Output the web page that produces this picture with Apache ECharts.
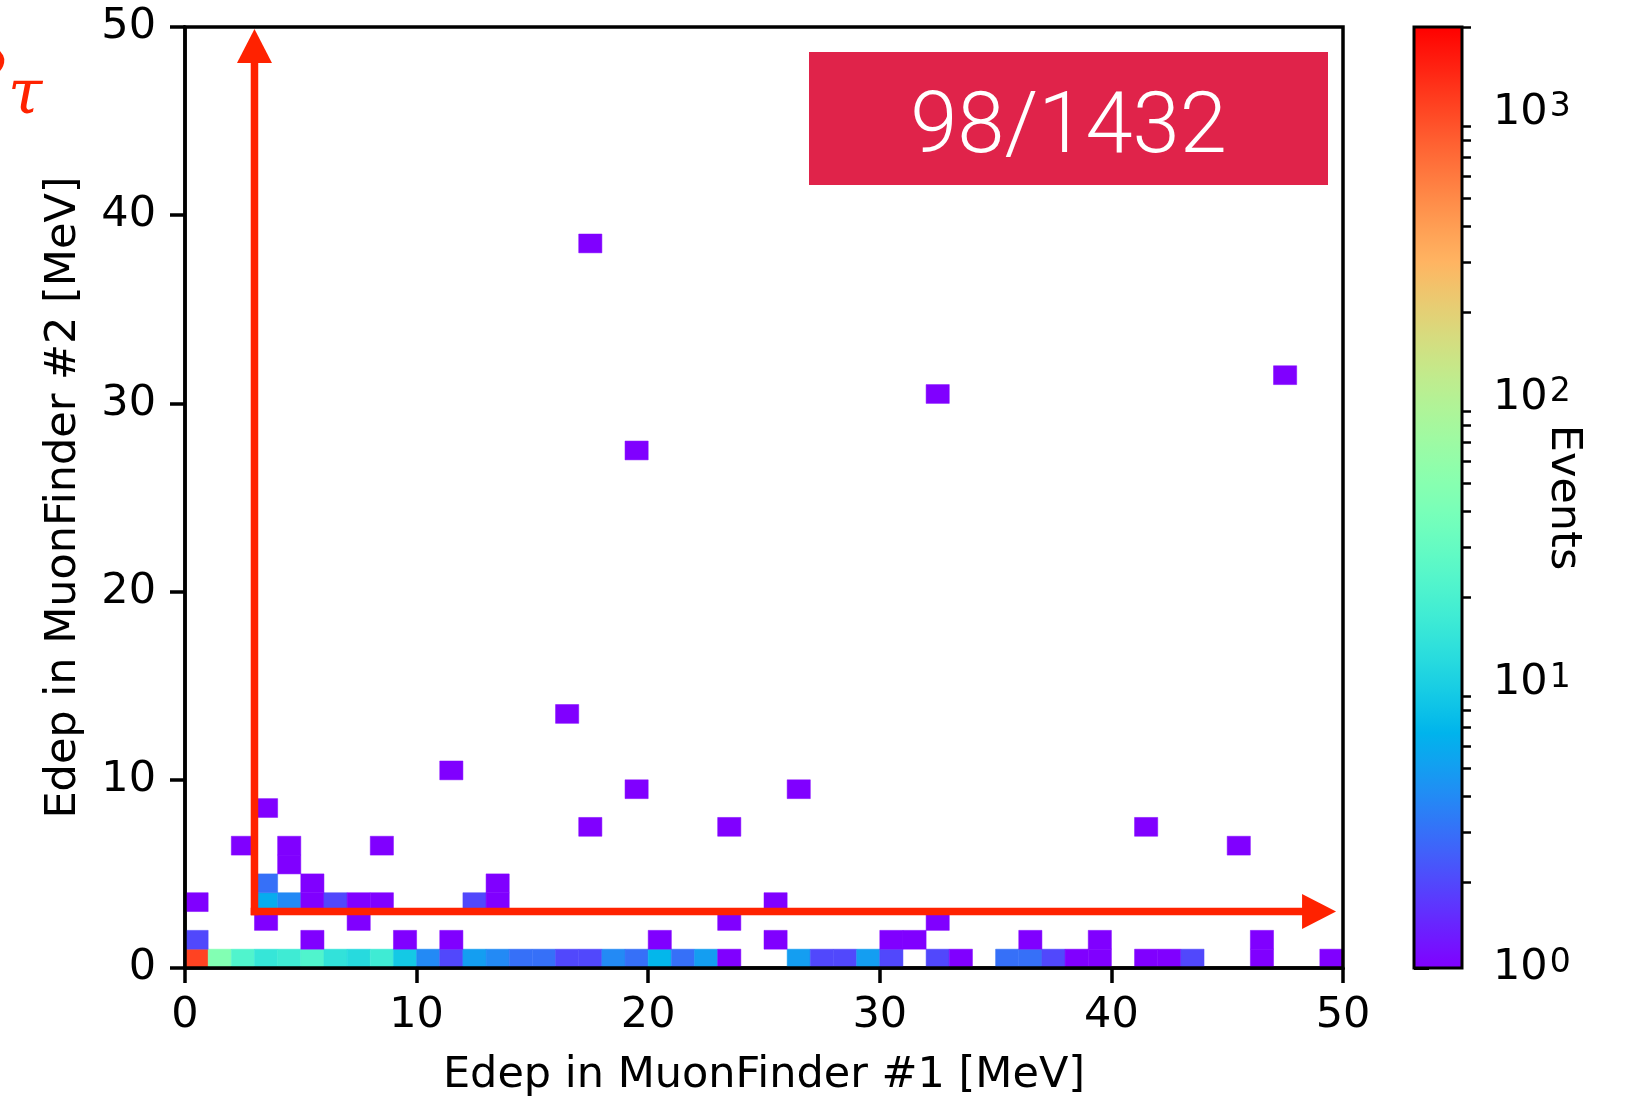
<!DOCTYPE html>
<html><head><meta charset="utf-8">
<script src="https://cdn.jsdelivr.net/npm/echarts@6/dist/echarts.min.js"></script>
<style>html,body{margin:0;padding:0;background:#fff;}#c{width:1630px;height:1103px;}</style>
</head><body><div id="c"></div>
<script>
// Row 0 (Edep #2 in [0,1) MeV): counts per 1-MeV bin of Edep #1 (0..49)
const row0Counts = [1050,46,22,15,17,22,14,12,17,9, 4,2,5,4,3,3,2,2,4,3, 7,3,5,1,0,0,5,2,2,5, 2,0,2,1,0,3,3,2,1,1, 0,1,1,2,0,0,1,0,0,1];
// Other filled bins: lower-left corner (MeV) and counts
const binX = [0,5,9,11,20,25,30,31,36,39,46, 3,7,23,32, 0,3,4,5,6,7,8,12,13,25, 3,5,13, 4, 2,4,8,45, 17,23,41, 3, 19,26, 11, 16, 19, 32, 47, 17];
const binY = [1,1,1,1,1,1,1,1,1,1,1, 2,2,2,2, 3,3,3,3,3,3,3,3,3,3, 4,4,4, 5, 6,6,6,6, 7,7,7, 8, 9,9, 10, 13, 27, 30, 31, 38];
const binCount = [2,1,1,1,1,1,1,1,1,1,1, 1,1,1,1, 1,6,4,1,2,1,1,2,1,1, 3,1,1, 1, 1,1,1,1, 1,1,1, 1, 1,1, 1, 1, 1, 1, 1, 1];
// Colour-bar range and ticks
const cbarMin = 1, cbarMax = 2000;
const cbarMajor = [1, 10, 100, 1000];
const cbarMinor = [2,3,4,5,6,7,8,9,20,30,40,50,60,70,80,90,200,300,400,500,600,700,800,900,2000];
// Selection arrows (start corner and tips, MeV)
const arrowFrom = [3, 3];
const arrowTips = [[3, 49.9], [49.7, 3]];
const boxText = '98/1432';
const xName = 'Edep in MuonFinder #1 [MeV]';
const yName = 'Edep in MuonFinder #2 [MeV]';
const cName = 'Events';

const LMAX = Math.log10(cbarMax);
function rainbow(t){
  const r = Math.min(1, Math.abs(2*t - 0.5));
  const g = Math.max(0, Math.sin(Math.PI*t));
  const b = Math.max(0, Math.cos(Math.PI*t/2));
  return 'rgb(' + Math.round(255*r) + ',' + Math.round(255*g) + ',' + Math.round(255*b) + ')';
}
const NST = 64;
const stopColors = [], gradStops = [];
for (let i = 0; i <= NST; i++) { stopColors.push(rainbow(i/NST)); gradStops.push({offset: i/NST, color: rainbow(i/NST)}); }

const heatData = [];
row0Counts.forEach((c, i) => { if (c > 0) heatData.push([i, 0, c, Math.log10(c)]); });
binX.forEach((x, i) => heatData.push([x, binY[i], binCount[i], Math.log10(binCount[i])]));

const FONT = 'DejaVu Sans';
const chart = echarts.init(document.getElementById('c'), null, {renderer: 'canvas'});

chart.setOption({
  animation: false,
  backgroundColor: '#fff',
  grid: [
    {left: 185, top: 27, width: 1158, height: 941, show: true, borderColor: '#000', borderWidth: 3.5, backgroundColor: 'transparent', z: 3},
    {left: 1414, top: 27, width: 48, height: 941, show: true, borderColor: '#000', borderWidth: 3, backgroundColor: 'transparent', z: 3}
  ],
  xAxis: [
    {gridIndex: 0, type: 'value', min: 0, max: 50, interval: 10,
     axisLine: {show: true, onZero: false, lineStyle: {color: '#000', width: 3.5}},
     axisTick: {show: true, length: 15, lineStyle: {color: '#000', width: 3.5}},
     axisLabel: {fontSize: 43, color: '#000', fontFamily: FONT, margin: 26},
     splitLine: {show: false},
     name: xName, nameLocation: 'middle', nameGap: 86,
     nameTextStyle: {fontSize: 43, color: '#000', fontFamily: FONT}},
    {gridIndex: 1, type: 'value', min: 0, max: 1, show: false}
  ],
  yAxis: [
    {gridIndex: 0, type: 'value', min: 0, max: 50, interval: 10,
     axisLine: {show: true, onZero: false, lineStyle: {color: '#000', width: 3.5}},
     axisTick: {show: true, length: 15, lineStyle: {color: '#000', width: 3.5}},
     axisLabel: {fontSize: 43, color: '#000', fontFamily: FONT, margin: 29},
     splitLine: {show: false},
     name: yName, nameLocation: 'middle', nameGap: 100,
     nameTextStyle: {fontSize: 43, color: '#000', fontFamily: FONT}},
    {gridIndex: 1, type: 'value', min: 0, max: LMAX, position: 'right',
     axisLine: {show: false}, splitLine: {show: false},
     axisTick: {show: true, length: 15, customValues: cbarMajor.map(v => Math.log10(v)), lineStyle: {color: '#000', width: 3}},
     axisLabel: {show: true, customValues: cbarMajor.map(v => Math.log10(v)), margin: 31,
       fontSize: 43, color: '#000', fontFamily: FONT,
       formatter: v => '10{sup|' + Math.round(v) + '}',
       rich: {sup: {fontSize: 33, lineHeight: 16, verticalAlign: 'top', color: '#000', fontFamily: FONT, padding: [0, 0, 0, 2]}}},
     name: cName, nameLocation: 'middle', nameRotate: -90, nameGap: 80, nameMoveOverlap: false,
     nameTextStyle: {fontSize: 43, color: '#000', fontFamily: FONT}},
    {gridIndex: 1, type: 'value', min: 0, max: LMAX, position: 'right',
     axisLine: {show: false}, splitLine: {show: false}, axisLabel: {show: false},
     axisTick: {show: true, length: 9, customValues: cbarMinor.map(v => Math.log10(v)), lineStyle: {color: '#000', width: 2.5}}}
  ],
  visualMap: {type: 'continuous', show: false, dimension: 3, min: 0, max: LMAX, seriesIndex: 0,
    inRange: {color: stopColors}},
  series: [
    {type: 'custom', name: 'hist', xAxisIndex: 0, yAxisIndex: 0,
     dimensions: ['x', 'y', 'count', 'logc'], encode: {x: 0, y: 1},
     data: heatData, z: 2,
     renderItem: (params, api) => {
       const x = api.value(0), y = api.value(1);
       const p0 = api.coord([x, y + 1]), p1 = api.coord([x + 1, y]);
       const col = api.visual('color');
       return {type: 'rect', shape: {x: p0[0], y: p0[1], width: p1[0] - p0[0], height: p1[1] - p0[1]},
               style: {fill: col, stroke: col, lineWidth: 0.5}};
     }},
    {type: 'custom', name: 'arrows', xAxisIndex: 0, yAxisIndex: 0, clip: false, z: 4,
     dimensions: ['x0', 'y0', 'x1', 'y1'], encode: {x: [0, 2], y: [1, 3]},
     data: arrowTips.map(t => [arrowFrom[0], arrowFrom[1], t[0], t[1]]),
     renderItem: (params, api) => {
       const p0 = api.coord([api.value(0), api.value(1)]);
       const p1 = api.coord([api.value(2), api.value(3)]);
       const dx = p1[0] - p0[0], dy = p1[1] - p0[1], len = Math.hypot(dx, dy);
       const ux = dx / len, uy = dy / len, nx = -uy, ny = ux;
       const headL = 34, headW = 35, lw = 7.5;
       const s = [p0[0] - ux * lw / 2, p0[1] - uy * lw / 2];
       const b = [p1[0] - ux * headL, p1[1] - uy * headL];
       return {type: 'group', children: [
         {type: 'line', shape: {x1: s[0], y1: s[1], x2: b[0] + ux * 2, y2: b[1] + uy * 2},
          style: {stroke: '#ff2200', lineWidth: lw, lineCap: 'butt'}},
         {type: 'polygon', shape: {points: [p1, [b[0] + nx * headW / 2, b[1] + ny * headW / 2], [b[0] - nx * headW / 2, b[1] - ny * headW / 2]]},
          style: {fill: '#ff2200'}}
       ]};
     }},
    {type: 'custom', name: 'colorbar', xAxisIndex: 1, yAxisIndex: 1, z: 2,
     data: [[0, 0, 1, LMAX]], encode: {x: [0, 2], y: [1, 3]},
     renderItem: (params, api) => {
       const p0 = api.coord([api.value(0), api.value(3)]);
       const p1 = api.coord([api.value(2), api.value(1)]);
       return {type: 'rect', shape: {x: p0[0], y: p0[1], width: p1[0] - p0[0], height: p1[1] - p0[1]},
               style: {fill: new echarts.graphic.LinearGradient(0, 1, 0, 0, gradStops)}};
     }}
  ],
  graphic: [
    {type: 'rect', left: 809, top: 52, shape: {width: 519, height: 133}, style: {fill: '#e0234a'}, z: 10},
    {type: 'text', x: 1068.5, y: 131, z: 11,
     style: {text: boxText, fill: '#fff', fontSize: 85, fontWeight: 300, fontFamily: 'Roboto',
             align: 'center', verticalAlign: 'middle', textAlign: 'center', textVerticalAlign: 'middle'}},
    {type: 'text', x: -44, y: 28, z: 11,
     style: {text: 'ν', fill: '#ff2200', fontSize: 84, fontStyle: 'italic', fontFamily: 'DejaVu Serif'}},
    {type: 'text', x: 8, y: 66, z: 11,
     style: {text: 'τ', fill: '#ff2200', fontSize: 62, fontStyle: 'italic', fontFamily: 'DejaVu Serif'}}
  ]
});
</script></body></html>
